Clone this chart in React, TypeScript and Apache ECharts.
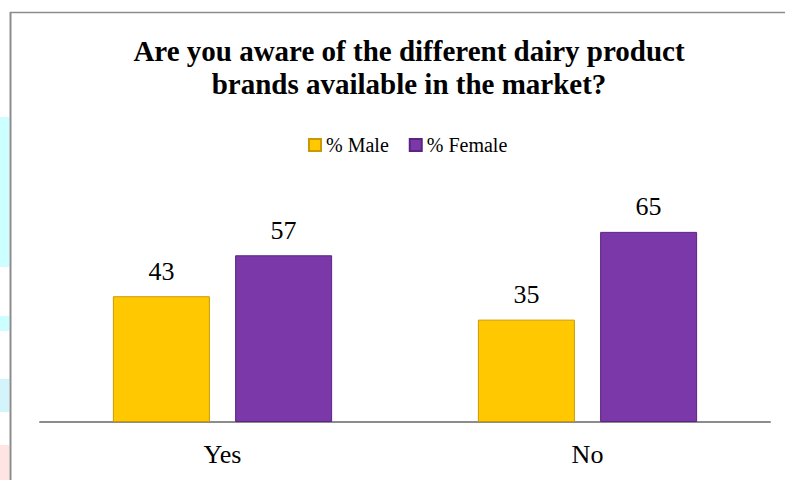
import React, { useEffect, useRef } from "react";
import * as echarts from "echarts";

const categories = ["Yes", "No"];
const maleValues = [43, 35];
const femaleValues = [57, 65];
const seriesNames = ["% Male", "% Female"];
const titleText = "Are you aware of the different dairy product\nbrands available in the market?";

const SERIF = "'Liberation Serif', 'Times New Roman', serif";

export default function App() {
  const ref = useRef<HTMLDivElement>(null);
  useEffect(() => {
    if (!ref.current) return;
    const chart = echarts.init(ref.current, null, { renderer: "svg" });
    const labelStyle = {
      show: true,
      position: "top" as const,
      distance: 12,
      fontFamily: SERIF,
      fontSize: 26,
      color: "#000",
    };
    chart.setOption({
      animation: false,
      backgroundColor: "#fff",
      title: {
        text: titleText,
        left: 404,
        textAlign: "center",
        top: 29,
        textStyle: {
          fontFamily: SERIF,
          fontWeight: "bold",
          fontSize: 29,
          lineHeight: 33,
          color: "#000",
        },
      },
      legend: {
        data: seriesNames,
        top: 130,
        left: 303,
        itemWidth: 12,
        itemHeight: 12,
        itemGap: 20,
        icon: "rect",
        textStyle: { fontFamily: SERIF, fontSize: 20, color: "#000" },
      },
      grid: { left: 40, right: 15, top: 188, bottom: 58 },
      xAxis: {
        type: "category",
        data: categories,
        axisLine: { lineStyle: { color: "#8c8c8c", width: 2 } },
        axisTick: { show: false },
        axisLabel: { fontFamily: SERIF, fontSize: 26, color: "#000", margin: 19 },
      },
      yAxis: { type: "value", min: 0, max: 80, show: false, splitLine: { show: false } },
      series: [
        {
          name: seriesNames[0],
          type: "bar",
          data: maleValues,
          barWidth: 97,
          barGap: "26%",
          itemStyle: { color: "#FFC800", borderColor: "#C99A00", borderWidth: 1 },
          label: labelStyle,
        },
        {
          name: seriesNames[1],
          type: "bar",
          data: femaleValues,
          barWidth: 97,
          itemStyle: { color: "#7A38A8", borderColor: "#5A2480", borderWidth: 1 },
          label: labelStyle,
        },
      ],
      graphic: [
        { type: "rect", shape: { x: 0, y: 117, width: 9, height: 150 }, style: { fill: "#CCFFFF" }, silent: true },
        { type: "rect", shape: { x: 0, y: 316, width: 9, height: 15 }, style: { fill: "#CCFFFF" }, silent: true },
        { type: "rect", shape: { x: 0, y: 379, width: 9, height: 33 }, style: { fill: "#D4F4FC" }, silent: true },
        { type: "rect", shape: { x: 0, y: 445, width: 9, height: 35 }, style: { fill: "#FFE4E4" }, silent: true },
        { type: "line", shape: { x1: 10.5, y1: 12, x2: 10.5, y2: 480 }, style: { stroke: "#8c8c8c", lineWidth: 2 }, silent: true },
        { type: "line", shape: { x1: 10, y1: 12.5, x2: 785, y2: 12.5 }, style: { stroke: "#8c8c8c", lineWidth: 1.5 }, silent: true },
      ],
    });
    return () => chart.dispose();
  }, []);
  return <div ref={ref} style={{ width: 785, height: 480, position: "fixed", left: 0, top: 0 }} />;
}
